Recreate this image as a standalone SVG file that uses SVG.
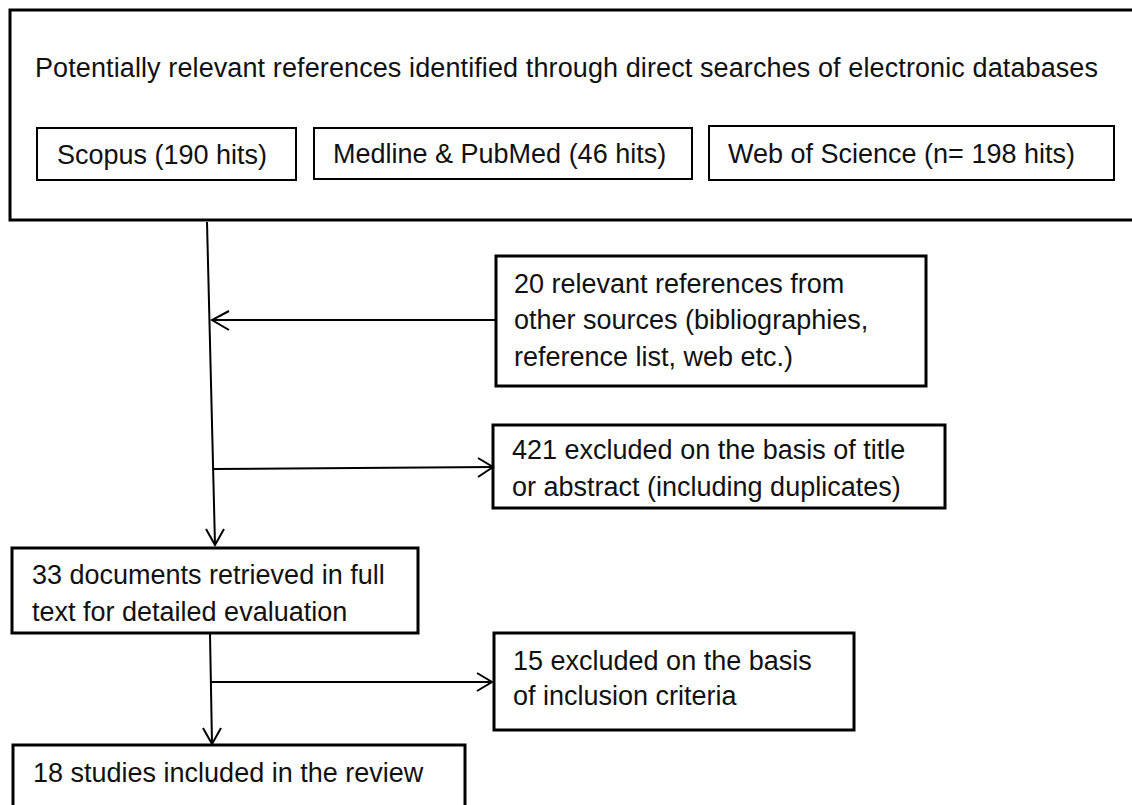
<svg xmlns="http://www.w3.org/2000/svg" width="1132" height="805" viewBox="0 0 1132 805">
<style>
.box{fill:#fff;stroke:#000;stroke-width:3}
.sbox{fill:#fff;stroke:#000;stroke-width:2}
.t{font-family:"Liberation Sans",Arial,sans-serif;font-size:27px;fill:#111}
.c{fill:none;stroke:#000;stroke-width:2}
</style>
<rect width="1132" height="805" fill="#fff"/>
<g id="sources">
<rect class="box" x="10" y="10" width="1130" height="210"/>
<text class="t" x="35" y="77" textLength="1063" lengthAdjust="spacing">Potentially relevant references identified through direct searches of electronic databases</text>
</g>
<g id="scopus">
<rect class="sbox" x="37" y="128" width="259" height="52"/>
<text class="t" x="57" y="164">Scopus (190 hits)</text>
</g>
<g id="medline">
<rect class="sbox" x="314" y="128" width="378" height="51"/>
<text class="t" x="333" y="163">Medline &amp; PubMed (46 hits)</text>
</g>
<g id="wos">
<rect class="sbox" x="709" y="126" width="405" height="54"/>
<text class="t" x="728" y="163">Web of Science (n= 198 hits)</text>
</g>
<g id="other">
<rect class="box" x="496" y="256" width="430" height="130"/>
<text class="t" x="514" y="293">20 relevant references from</text>
<text class="t" x="514" y="329">other sources (bibliographies,</text>
<text class="t" x="514" y="366">reference list, web etc.)</text>
</g>
<g id="excluded1">
<rect class="box" x="493" y="425" width="452" height="83"/>
<text class="t" x="512" y="459">421 excluded on the basis of title</text>
<text class="t" x="512" y="496">or abstract (including duplicates)</text>
</g>
<g id="fulltext">
<rect class="box" x="12" y="548" width="406" height="85"/>
<text class="t" x="32" y="584">33 documents retrieved in full</text>
<text class="t" x="32" y="621">text for detailed evaluation</text>
</g>
<g id="excluded2">
<rect class="box" x="494" y="633" width="360" height="97"/>
<text class="t" x="513" y="670">15 excluded on the basis</text>
<text class="t" x="513" y="705">of inclusion criteria</text>
</g>
<g id="included">
<rect class="box" x="13" y="745" width="452" height="70"/>
<text class="t" x="33" y="782">18 studies included in the review</text>
</g>
<g id="connectors">
<path class="c" d="M207,222 L215,545"/>
<path class="c" d="M206,529 L215,545 L224,529"/>
<path class="c" d="M496,320 L212,320"/>
<path class="c" d="M229,311 L212,320 L229,330"/>
<path class="c" d="M213,469 L493,467"/>
<path class="c" d="M478,458 L493,467 L478,477"/>
<path class="c" d="M210,634 L212,744"/>
<path class="c" d="M203,728 L212,744 L221,728"/>
<path class="c" d="M211,682 L492,682"/>
<path class="c" d="M477,673 L492,682 L477,691"/>
</g>
</svg>
